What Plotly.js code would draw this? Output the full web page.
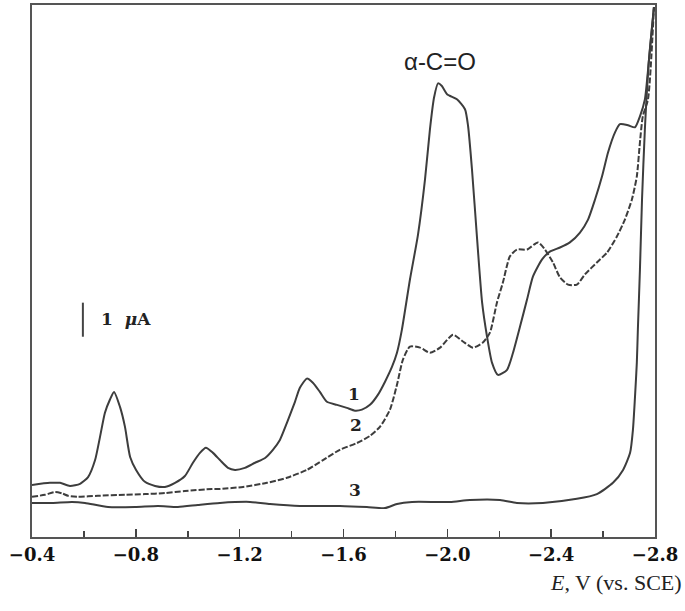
<!DOCTYPE html>
<html>
<head>
<meta charset="utf-8">
<script src="https://cdn.plot.ly/plotly-3.0.1.min.js"></script>
<style>html,body{margin:0;padding:0;background:#fff;}#chart{width:685px;height:611px;}</style>
</head>
<body>
<div id="chart"></div>
<script>
// Potential E (V vs. SCE) and current (µA, arbitrary offset)
var E1 = [-0.400,-0.469,-0.508,-0.546,-0.585,-0.616,-0.643,-0.662,-0.681,-0.700,-0.716,-0.739,-0.758,-0.778,-0.801,-0.835,-0.874,-0.912,-0.951,-0.989,-1.020,-1.047,-1.070,-1.097,-1.124,-1.155,-1.182,-1.220,-1.259,-1.298,-1.328,-1.355,-1.382,-1.413,-1.432,-1.459,-1.482,-1.509,-1.536,-1.575,-1.613,-1.644,-1.671,-1.702,-1.733,-1.760,-1.787,-1.806,-1.825,-1.856,-1.887,-1.914,-1.933,-1.949,-1.964,-1.979,-1.999,-2.037,-2.068,-2.080,-2.095,-2.114,-2.134,-2.153,-2.172,-2.195,-2.230,-2.253,-2.280,-2.307,-2.330,-2.365,-2.395,-2.434,-2.472,-2.511,-2.542,-2.569,-2.596,-2.619,-2.646,-2.665,-2.696,-2.723,-2.742,-2.761,-2.777,-2.796];
var I1 = [1.53,1.59,1.59,1.50,1.56,1.76,2.26,2.94,3.65,4.03,4.26,3.82,3.24,2.35,1.97,1.62,1.50,1.47,1.59,1.79,2.18,2.47,2.62,2.47,2.26,2.03,1.97,2.03,2.18,2.32,2.56,2.85,3.35,3.97,4.38,4.65,4.53,4.26,3.97,3.88,3.79,3.71,3.74,3.88,4.18,4.56,5.00,5.41,6.09,7.56,8.88,10.5,11.97,12.91,13.32,13.24,13.0,12.85,12.56,12.06,10.79,8.82,6.88,5.88,5.12,4.76,4.91,5.41,6.18,6.97,7.65,8.15,8.38,8.50,8.65,8.94,9.32,9.91,10.59,11.29,11.88,12.12,12.09,12.03,12.35,12.85,14.03,15.56];

var E2 = [-0.400,-0.450,-0.489,-0.516,-0.539,-0.577,-0.654,-0.758,-0.835,-0.912,-0.989,-1.093,-1.124,-1.213,-1.305,-1.382,-1.459,-1.521,-1.586,-1.652,-1.702,-1.741,-1.779,-1.806,-1.829,-1.856,-1.895,-1.933,-1.972,-2.022,-2.060,-2.099,-2.137,-2.164,-2.191,-2.214,-2.241,-2.268,-2.307,-2.349,-2.376,-2.407,-2.434,-2.465,-2.499,-2.530,-2.576,-2.615,-2.653,-2.684,-2.711,-2.730,-2.742,-2.753,-2.773,-2.796];
var I2 = [1.18,1.24,1.32,1.28,1.21,1.18,1.21,1.24,1.26,1.29,1.35,1.41,1.41,1.47,1.59,1.74,1.97,2.26,2.56,2.76,2.97,3.24,3.74,4.47,5.21,5.59,5.56,5.41,5.56,5.94,5.74,5.56,5.71,6.00,6.88,7.47,8.24,8.44,8.44,8.65,8.44,8.06,7.62,7.41,7.41,7.71,8.06,8.35,8.82,9.32,9.91,10.59,11.59,12.35,12.85,15.56];

var E3 = [-0.400,-0.477,-0.554,-0.604,-0.693,-0.797,-0.885,-0.962,-1.039,-1.124,-1.240,-1.317,-1.432,-1.586,-1.690,-1.760,-1.806,-1.864,-2.010,-2.087,-2.203,-2.268,-2.368,-2.499,-2.576,-2.638,-2.677,-2.704,-2.715,-2.723,-2.730,-2.734,-2.742,-2.750,-2.761,-2.777,-2.796];
var I3 = [1.00,1.00,1.03,1.00,0.88,0.88,0.91,0.88,0.94,1.00,1.03,0.97,0.91,0.91,0.88,0.85,0.97,1.03,1.03,1.09,1.09,1.00,1.00,1.12,1.26,1.59,1.97,2.47,3.15,4.12,5.12,6.09,7.85,9.91,11.97,14.03,15.56];

var tickVals = [-0.4,-0.8,-1.2,-1.6,-2.0,-2.4,-2.8];
var tickText = ['\u22120.4','\u22120.8','\u22121.2','\u22121.6','\u22122.0','\u22122.4','\u22122.8'];
var curveLabels = ['1','2','3'];
var peakLabel = '\u03b1-C=O';
var scaleLabel = '1&nbsp;&nbsp;<i>\u03bc</i>A';
var axisTitle = '<i>E</i>, V (vs. SCE)';

var lineColor = '#3d3d3d';
var traces = [
  {x:E1, y:I1, mode:'lines', line:{color:lineColor, width:2, shape:'spline', smoothing:0.6}, hoverinfo:'skip'},
  {x:E2, y:I2, mode:'lines', line:{color:lineColor, width:2, dash:'6px,2px', shape:'spline', smoothing:0.6}, hoverinfo:'skip'},
  {x:E3, y:I3, mode:'lines', line:{color:lineColor, width:2, shape:'spline', smoothing:0.6}, hoverinfo:'skip'}
];

var serifBold = {family:'DejaVu Serif', size:17, color:'#222', weight:'bold'};

var layout = {
  width:685, height:611,
  margin:{l:32, r:30, t:5, b:74},
  paper_bgcolor:'#fff', plot_bgcolor:'#fff',
  showlegend:false,
  xaxis:{
    range:[-0.4,-2.8], tickvals:tickVals, ticktext:tickText,
    ticks:'inside', ticklen:8, tickwidth:1.5, tickcolor:'#444',
    minor:{tickvals:[-0.6,-1.0,-1.4,-1.8,-2.2,-2.6], ticks:'inside', ticklen:6, tickwidth:1.5, tickcolor:'#444'},
    showline:true, mirror:true, linecolor:'#555', linewidth:2,
    showgrid:false, zeroline:false,
    tickfont:{family:'DejaVu Serif', size:18, color:'#111', weight:'bold'}
  },
  yaxis:{
    range:[0,15.62], showticklabels:false, ticks:'',
    showline:true, mirror:true, linecolor:'#555', linewidth:2,
    showgrid:false, zeroline:false
  },
  shapes:[
    {type:'line', xref:'x', yref:'y', x0:-0.596, x1:-0.596, y0:5.88, y1:6.88, line:{color:'#444', width:2}}
  ],
  annotations:[
    {x:-1.64, y:4.2, xref:'x', yref:'y', text:curveLabels[0], showarrow:false, font:serifBold},
    {x:-1.65, y:3.28, xref:'x', yref:'y', text:curveLabels[1], showarrow:false, font:serifBold},
    {x:-1.645, y:1.38, xref:'x', yref:'y', text:curveLabels[2], showarrow:false, font:serifBold},
    {x:-1.972, y:13.97, xref:'x', yref:'y', text:peakLabel, showarrow:false, font:{family:'Liberation Sans', size:24, color:'#222'}},
    {x:-0.66, y:6.4, xref:'x', yref:'y', text:scaleLabel, showarrow:false, xanchor:'left', font:serifBold},
    {x:1.046, y:-0.085, xref:'paper', yref:'paper', text:axisTitle, showarrow:false, xanchor:'right', yanchor:'middle', font:{family:'Liberation Serif', size:22, color:'#222'}}
  ]
};

Plotly.newPlot('chart', traces, layout, {displayModeBar:false, staticPlot:true});
</script>
</body>
</html>
